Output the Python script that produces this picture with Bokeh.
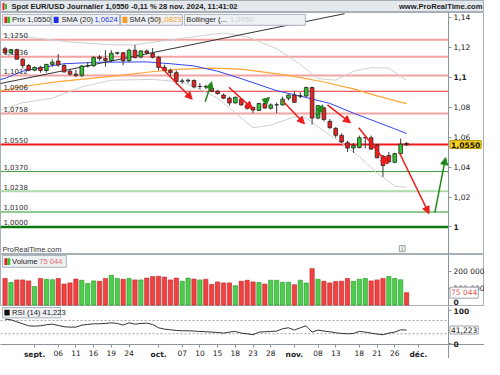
import pandas as pd
from bokeh.plotting import figure
from bokeh.layouts import column
from bokeh.models import (ColumnDataSource, Label, Arrow, NormalHead, FixedTicker,
                          Range1d, CustomJSTickFormatter, BoxAnnotation, LinearAxis)
from bokeh.embed import file_html
from bokeh.resources import INLINE

# ---------------------------------------------------------------- data
dates = pd.bdate_range("2024-08-26", "2024-11-28")   # 69 trading days

opens = [1.1190, 1.1162, 1.1184, 1.1120, 1.1078,
         1.1047, 1.1066, 1.1045, 1.1085, 1.1108,
         1.1078, 1.1040, 1.1020, 1.1012, 1.1075,
         1.1076, 1.1135, 1.1124, 1.1112, 1.1160,
         1.1163, 1.1110, 1.1180, 1.1135, 1.1175,
         1.1158,
         1.1133, 1.1066, 1.1045, 1.1030,
         1.0972, 1.0975, 1.0978, 1.0938, 1.0937,
         1.0927, 1.0906, 1.0881, 1.0860, 1.0828,
         1.0853, 1.0815, 1.0798, 1.0778, 1.0824,
         1.0792, 1.0815, 1.0815, 1.0860,
         1.0881,
         1.0873, 1.0874, 1.0931, 1.0727, 1.0795,
         1.0705, 1.0659, 1.0612, 1.0562, 1.0527,
         1.0530, 1.0596, 1.0596, 1.0547, 1.0473,
         1.0477, 1.0432, 1.0490, 1.0558]
highs = [1.1202, 1.1189, 1.1190, 1.1125, 1.1088,
         1.1072, 1.1076, 1.1090, 1.1120, 1.1155,
         1.1090, 1.1050, 1.1050, 1.1080, 1.1100,
         1.1140, 1.1147, 1.1180, 1.1180, 1.1170,
         1.1168, 1.1190, 1.1215, 1.1180, 1.1185,
         1.1195,
         1.1140, 1.1083, 1.1058, 1.1045,
         1.0990, 1.0990, 1.0985, 1.0960, 1.0950,
         1.0940, 1.0915, 1.0890, 1.0870, 1.0870,
         1.0860, 1.0830, 1.0805, 1.0830, 1.0830,
         1.0825, 1.0830, 1.0870, 1.0885,
         1.0905,
         1.0900, 1.0937, 1.0937, 1.0815, 1.0805,
         1.0720, 1.0665, 1.0625, 1.0575, 1.0560,
         1.0610, 1.0610, 1.0610, 1.0555, 1.0480,
         1.0500, 1.0495, 1.0590, 1.0565]
lows = [1.1155, 1.1152, 1.1119, 1.1058, 1.1040,
        1.1040, 1.1030, 1.1030, 1.1070, 1.1070,
        1.1030, 1.1010, 1.1000, 1.1000, 1.1065,
        1.1070, 1.1110, 1.1070, 1.1100, 1.1150,
        1.1080, 1.1100, 1.1125, 1.1125, 1.1150,
        1.1125,
        1.1045, 1.1040, 1.1005, 1.0950,
        1.0955, 1.0960, 1.0925, 1.0920, 1.0920,
        1.0900, 1.0885, 1.0855, 1.0811, 1.0825,
        1.0810, 1.0785, 1.0760, 1.0775, 1.0790,
        1.0785, 1.0760, 1.0810, 1.0845,
        1.0830,
        1.0860, 1.0870, 1.0683, 1.0720, 1.0705,
        1.0655, 1.0595, 1.0560, 1.0500, 1.0495,
        1.0525, 1.0525, 1.0515, 1.0460, 1.0335,
        1.0425, 1.0425, 1.0480, 1.0540]
closes = [1.1162, 1.1184, 1.1120, 1.1078, 1.1047,
          1.1065, 1.1045, 1.1085, 1.1100, 1.1082,
          1.1035, 1.1020, 1.1012, 1.1075, 1.1076,
          1.1132, 1.1124, 1.1112, 1.1160, 1.1163,
          1.1110, 1.1180, 1.1132, 1.1175, 1.1162,
          1.1133,
          1.1066, 1.1045, 1.1030, 1.0972,
          1.0975, 1.0980, 1.0935, 1.0938, 1.0935,
          1.0906, 1.0890, 1.0860, 1.0828, 1.0866,
          1.0815, 1.0792, 1.0781, 1.0824, 1.0794,
          1.0815, 1.0816, 1.0853, 1.0881,
          1.0832,
          1.0876, 1.0931, 1.0727, 1.0810, 1.0718,
          1.0663, 1.0612, 1.0568, 1.0527, 1.0543,
          1.0596, 1.0597, 1.0520, 1.0462, 1.0410,
          1.0435, 1.0490, 1.0553, 1.0550]

volumes = [161000, 136000, 152000, 152000, 146000, 112000, 161000, 156000, 153000, 161000,
           127000, 134000, 157000, 150000, 130000, 146000, 144000, 161000, 180000, 161000,
           156000, 161000, 152000, 152000, 163000, 173000, 174000, 169000, 152000, 163000,
           144000, 163000, 157000, 152000, 156000, 125000, 140000, 134000, 134000, 117000,
           144000, 150000, 140000, 136000, 127000, 150000, 150000, 138000, 138000, 123000,
           150000, 133000, 220000, 156000, 144000, 134000, 142000, 144000, 161000, 144000,
           156000, 161000, 146000, 152000, 161000, 173000, 161000, 153000, 75044]

rsi = [74, 72, 66, 60, 54, 53, 54, 57, 59, 55,
       51, 50, 50, 56, 58, 60, 60, 61, 63, 61,
       56, 63, 59, 61, 62, 58, 48, 44, 42, 40,
       39, 39, 38, 37, 36, 35, 34, 32, 35, 37,
       32, 30, 27, 35, 36, 37, 38, 45, 48, 41,
       48, 54, 35, 41, 38, 36, 33, 31, 30, 31,
       37, 35, 32, 29, 27, 32, 35, 42, 41.223]
rsi_levels = [70, 30]

# indicator lines read at sample bars (bar index, value)
sma20_idx = [-1, 0, 3, 5, 10, 16, 24, 28, 32, 36, 40, 46, 50, 55, 59, 63, 66, 68]
sma20_val = [1.0982, 1.0992, 1.1040, 1.1055, 1.1090, 1.1100, 1.1102, 1.1090, 1.1075,
             1.1040, 1.0990, 1.0910, 1.0874, 1.0825, 1.0760, 1.0700, 1.0655, 1.0624]
sma50_idx = [-1, 0, 3, 9, 18, 24, 29, 35, 40, 48, 54, 59, 63, 68]
sma50_val = [1.0908, 1.0914, 1.0938, 1.0970, 1.1005, 1.1033, 1.1052, 1.1060, 1.1054,
             1.1012, 1.0968, 1.0922, 1.0875, 1.0823]
bb_up_idx = [-1, 0, 5, 11, 18, 22, 27, 31, 37, 41, 46, 50, 53, 56, 59, 62, 65, 68]
bb_up_val = [1.1290, 1.1285, 1.1262, 1.1235, 1.1216, 1.1216, 1.1244, 1.1265, 1.1295,
             1.1270, 1.1190, 1.1085, 1.0990, 1.0980, 1.1040, 1.1064, 1.1060, 1.0980]
bb_lo_idx = [-1, 0, 3, 8, 13, 18, 25, 30, 33, 36, 39, 42, 45, 49, 51, 54, 57, 60, 63, 66, 68]
bb_lo_val = [1.0780, 1.0790, 1.0830, 1.0860, 1.0935, 1.0980, 1.0985, 1.0968, 1.0920,
             1.0860, 1.0760, 1.0663, 1.0680, 1.0735, 1.0727, 1.0640, 1.0560, 1.0470,
             1.0360, 1.0272, 1.0265]
trend_idx = [-1.0, 57.5]
trend_val = [1.0956, 1.1424]

levels = [1.1250, 1.1136, 1.1012, 1.0906, 1.0758, 1.0550, 1.0370, 1.0238, 1.0100, 1.0000]
level_labels = ["1,1250", "1,1136", "1,1012", "1,0906", "1,0758",
                "1,0550", "1,0370", "1,0238", "1,0100", "1,0000"]

red_arrows = dict(x0=[26.0, 37.9, 47.0, 54.6, 59.9, 66.8],
                  y0=[1.1085, 1.0933, 1.0843, 1.0815, 1.0663, 1.0494],
                  x1=[31.7, 41.9, 50.7, 58.5, 64.8, 71.8],
                  y1=[1.0853, 1.0790, 1.0689, 1.0695, 1.0420, 1.0089])
green_arrows = dict(x0=[33.9, 43.8, 52.8, 72.8],
                    y0=[1.0836, 1.0830, 1.0740, 1.0097],
                    x1=[35.0, 44.8, 53.8, 74.6],
                    y1=[1.0969, 1.0865, 1.0815, 1.0463])

xtick_idx = [5, 9, 12, 15, 18, 21, 26, 30, 33, 36, 39, 42, 45, 49, 53, 56, 60, 63, 66, 70]
xtick_labels = ["sept.", "06", "11", "16", "19", "24", "oct.", "07", "10", "15", "18",
                "23", "28", "nov.", "08", "13", "18", "21", "26", "déc."]

main_ticks = [1.02, 1.04, 1.06, 1.08, 1.12, 1.14]
main_ticks_bold = [1.0, 1.10]
vol_ticks = [100000, 200000]
vol_ticks_bold = [0]
rsi_ticks_top = [100]
rsi_ticks_bottom = [0]

# ---------------------------------------------------------------- styles
FONT = "DejaVu Sans"
LFONT = "Liberation Sans"
UP, DOWN = "#2fc42f", "#ee2020"
AXIS_C = "#8c959e"
level_colors = ["#f3a3a3", "#f3a3a3", "#f3a3a3", "#e63232", "#f3a3a3",
                "#f01818", "#3b9a3b", "#a9dca9", "#6cb86c", "#0b780b"]
level_widths = [2.0, 2.0, 2.0, 1.0, 2.0, 2.0, 1.0, 2.0, 1.4, 2.4]

TOTAL_W = 484
DATA_W = 448                      # plotting area left of the price axis
X0, X1 = -0.77, 75.1              # bar-index span of the plotting area
XE = X1 + (TOTAL_W - DATA_W) * (X1 - X0) / DATA_W   # frame extends under the axis
xr = Range1d(X0, XE)

PRICE_FMT = CustomJSTickFormatter(
    code="var s = tick.toFixed(2).replace(/0+$/, '').replace(/\\.$/, ''); return s.replace('.', ',');")
VOL_FMT = CustomJSTickFormatter(
    code="return tick == 0 ? '0' : (tick / 1000).toFixed(0) + ' 000';")


def ix(px):          # reference pixel column -> bar index
    return (px - 4.7) / 6.1


def py(ry):          # reference pixel row -> price (main panel)
    return 1.0 + (238.0 - ry) / 1578.4


def vy(ry):          # reference pixel row -> volume
    return (320.5 - ry) / 17.5 * 100000


def ry_rsi(ry):      # reference pixel row -> RSI
    return (361.2 - ry) / 0.35


def style_axis(ax, bold=False):
    ax.axis_line_color = AXIS_C
    ax.major_tick_line_color = AXIS_C
    ax.major_tick_in = 0
    ax.major_tick_out = 3
    ax.minor_tick_line_color = None
    ax.major_label_standoff = 2
    ax.major_label_text_font = FONT
    ax.major_label_text_font_size = "7.5px"
    ax.major_label_text_color = "#222222"
    ax.major_label_text_font_style = "bold" if bold else "normal"


def price_axis(p, ticks, fmt=None, bold=False, baseline=None):
    ax = LinearAxis(ticker=FixedTicker(ticks=ticks), fixed_location=X1)
    if fmt is not None:
        ax.formatter = fmt
    style_axis(ax, bold)
    if baseline is not None:
        ax.major_label_text_baseline = baseline
    p.add_layout(ax, "right")
    return ax


def panel(h, yr, outline="#a7afb7"):
    p = figure(frame_width=TOTAL_W, frame_height=h, x_range=xr, y_range=Range1d(*yr),
               output_backend="svg", toolbar_location=None, y_axis_location=None,
               x_axis_location=None,
               min_border_left=0, min_border_right=0, min_border_top=0, min_border_bottom=0,
               background_fill_color="white", border_fill_color="white",
               outline_line_color=outline)
    p.grid.visible = False
    return p


def txt(p, x, y, s, color="#222222", size="7.5px", bold=False, align="left",
        baseline="middle", font=FONT, **kw):
    lab = Label(x=x, y=y, text=s, text_color=color, text_font_size=size, text_font=font,
                text_font_style="bold" if bold else "normal", text_align=align,
                text_baseline=baseline, **kw)
    p.add_layout(lab)
    return lab


def box(p, left, right, top, bottom, color="#eef1f4", line="#a9b2bb"):
    p.add_layout(BoxAnnotation(left=left, right=right, top=top, bottom=bottom,
                               fill_color=color, fill_alpha=1.0,
                               line_color=line, line_width=1, line_alpha=1.0))


# ---------------------------------------------------------------- title bar
title = figure(frame_width=TOTAL_W, frame_height=12, x_range=Range1d(0, TOTAL_W),
               y_range=Range1d(0, 12), output_backend="svg", toolbar_location=None,
               x_axis_location=None, y_axis_location=None, min_border=0,
               background_fill_color="#e3e8ed", border_fill_color="white",
               outline_line_color="#a7afb7")
title.grid.visible = False
box(title, 2, 4, 9.5, 2.5, color=DOWN, line=None)
box(title, 4.5, 6.5, 8.5, 3.5, color=UP, line=None)
txt(title, 11, 6, "Spot EUR/USD Journalier 1,0550 -0,11 % 28 nov. 2024, 11:41:02",
    bold=True, size="7.6px", font=LFONT, color="#1b1b1b")
txt(title, 482, 6, "www.ProRealTime.com", bold=True, size="7.6px", font=LFONT,
    align="right", color="#1b1b1b")

# ---------------------------------------------------------------- main price panel
main = panel(242, (py(267), py(12)))
price_axis(main, main_ticks, PRICE_FMT)
price_axis(main, main_ticks_bold, PRICE_FMT, bold=True)

main.segment(x0=X0, x1=X1, y0="y", y1="y", line_color="color", line_width="w",
             source=ColumnDataSource(dict(y=levels, color=level_colors, w=level_widths)))

main.line(bb_up_idx, bb_up_val, line_color="#cfcfcf", line_width=1)
main.line(bb_lo_idx, bb_lo_val, line_color="#cfcfcf", line_width=1)
main.line(sma50_idx, sma50_val, line_color="#ffa436", line_width=1.2)
main.line(sma20_idx, sma20_val, line_color="#3344f0", line_width=1)
main.line(trend_idx, trend_val, line_color="#333333", line_width=1)

idx = list(range(len(dates)))
cs = ColumnDataSource(dict(
    x=idx, high=highs, low=lows,
    top=[max(o, c) for o, c in zip(opens, closes)],
    bottom=[min(o, c) for o, c in zip(opens, closes)],
    color=[UP if c >= o else DOWN for o, c in zip(opens, closes)]))
main.segment(x0="x", y0="low", x1="x", y1="high", source=cs, line_color="#3a3a3a", line_width=1)
main.vbar(x="x", width=0.62, top="top", bottom="bottom", fill_color="color",
          line_color="#262626", line_width=0.8, source=cs)

main.add_layout(Arrow(end=NormalHead(size=7, fill_color="#ee1c1c", line_color="#ee1c1c"),
                      x_start="x0", y_start="y0", x_end="x1", y_end="y1",
                      line_color="#ee1c1c", line_width=1.5,
                      source=ColumnDataSource(red_arrows)))
main.add_layout(Arrow(end=NormalHead(size=7, fill_color="#1c8a1c", line_color="#1c8a1c"),
                      x_start="x0", y_start="y0", x_end="x1", y_end="y1",
                      line_color="#1c8a1c", line_width=1.5,
                      source=ColumnDataSource(green_arrows)))

for lv, lab in zip(levels, level_labels):
    txt(main, ix(3), lv, lab, baseline="bottom", y_offset=1.5, size="7px", color="#2a2a2a")

# legend row
ly0, ly1, lyc = py(14), py(25.5), py(19.8)
LS = "7.6px"
box(main, ix(2), ix(52), ly0, ly1)
box(main, ix(4), ix(7), py(16.5), py(23), color=DOWN, line=None)
box(main, ix(7), ix(10), py(16.5), py(23), color=UP, line=None)
txt(main, ix(12), lyc, "Prix 1,0550", size=LS, font=LFONT)
box(main, ix(53), ix(123), ly0, ly1)
box(main, ix(55), ix(60), py(16.5), py(23), color="#1f2ee8", line=None)
txt(main, ix(63), lyc, "SMA (20)", size=LS, font=LFONT)
txt(main, ix(97), lyc, "1,0624", size=LS, font=LFONT, color="#2233dd")
box(main, ix(124), ix(188), ly0, ly1)
box(main, ix(126), ix(131), py(16.5), py(23), color="#ff9a20", line=None)
txt(main, ix(133), lyc, "SMA (50)", size=LS, font=LFONT)
txt(main, ix(163), lyc, "1,0823", size=LS, font=LFONT, color="#f59a1a")
box(main, ix(190), ix(315), ly0, ly1)
txt(main, ix(192), lyc, "Bollinger (...", size=LS, font=LFONT)
txt(main, ix(237), lyc, "1,0950", size=LS, font=LFONT, color="#cfcfcf")

txt(main, ix(2), py(262), "ProRealTime.com", size="7.4px", font=LFONT, color="#333333")
box(main, ix(412), ix(418), py(257.5), py(264), color="#f4f4f4", line="#9aa3ab")
txt(main, ix(415), py(260.8), "i", size="6.5px", color="#666666", align="center")

txt(main, X1 + 0.25, 1.0550, "1,0550", bold=True, size="7.6px", color="#111111",
    background_fill_color="#f8d21c", border_line_color="#b8960e", padding=1)

# ---------------------------------------------------------------- volume panel
vol = panel(52, (vy(322), vy(267)))
price_axis(vol, vol_ticks, VOL_FMT)
price_axis(vol, vol_ticks_bold, VOL_FMT, bold=True, baseline="bottom")
vcol = [UP if (closes[i] >= (closes[i - 1] if i else opens[0])) else DOWN for i in idx]
vline = ["#2f9f2f" if c == UP else "#c03030" for c in vcol]
vs = ColumnDataSource(dict(x=idx, v=volumes, color=vcol, line=vline))
vol.vbar(x="x", width=0.72, top="v", bottom=0, fill_color="color", fill_alpha=0.85,
         line_color="line", line_width=0.7, source=vs)
box(vol, ix(2), ix(68), vy(268), vy(280.5))
box(vol, ix(4), ix(7), vy(271), vy(278), color=DOWN, line=None)
box(vol, ix(7), ix(10), vy(271), vy(278), color=UP, line=None)
txt(vol, ix(12), vy(274.5), "Volume", size=LS, font=LFONT)
txt(vol, ix(40), vy(274.5), "75 044", size=LS, font=LFONT, color="#e66a6a")
txt(vol, X1 + 0.25, volumes[-1], "75 044", size="7.5px", color="#e05a5a",
    background_fill_color="white", border_line_color="#9aa3ab", padding=1)

# ---------------------------------------------------------------- RSI panel (+ date axis)
RY0, RY1 = ry_rsi(362), ry_rsi(322)
AXIS_PX = 14                                     # room for the date labels
RYB = RY0 - AXIS_PX * (RY1 - RY0) / 38.0
rp = panel(38 + AXIS_PX, (RYB, RY1), outline=None)
price_axis(rp, rsi_ticks_top, bold=True)
price_axis(rp, rsi_ticks_bottom, bold=True, baseline="bottom")
rp.segment(x0=X0, x1=X1, y0=rsi_levels, y1=rsi_levels, line_color="#a0a0a0",
           line_width=1, line_dash="2 2")
rp.line(idx, rsi, line_color="#333333", line_width=1)
box(rp, ix(2), ix(62), ry_rsi(323), ry_rsi(334))
box(rp, ix(4), ix(9.5), ry_rsi(325.5), ry_rsi(331.5), color="#111111", line=None)
txt(rp, ix(12), ry_rsi(328.5), "RSI (14) 41,223", size=LS, font=LFONT)
txt(rp, X1 + 0.25, rsi[-1], "41,223", size="7.5px", color="#222222",
    background_fill_color="white", border_line_color="#9aa3ab", padding=1)

day_pos = [i for i, l in zip(xtick_idx, xtick_labels) if not l.endswith(".")]
month_pos = [i for i, l in zip(xtick_idx, xtick_labels) if l.endswith(".")]

day_axis = LinearAxis(ticker=FixedTicker(ticks=day_pos), fixed_location=RY0,
                      major_label_overrides={i: l for i, l in zip(xtick_idx, xtick_labels)
                                             if not l.endswith(".")})
style_axis(day_axis)
rp.add_layout(day_axis, "below")
month_axis = LinearAxis(ticker=FixedTicker(ticks=month_pos), fixed_location=RY0,
                        major_label_overrides={i: l for i, l in zip(xtick_idx, xtick_labels)
                                               if l.endswith(".")})
style_axis(month_axis, bold=True)
rp.add_layout(month_axis, "below")

layout = column(title, main, vol, rp, spacing=0)
open("out.html", "w").write(file_html(layout, INLINE))
